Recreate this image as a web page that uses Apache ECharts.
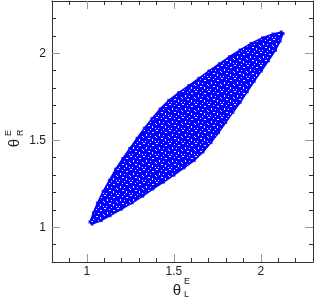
<!DOCTYPE html>
<html><head><meta charset="utf-8">
<script src="https://cdn.jsdelivr.net/npm/echarts@6/dist/echarts.min.js"></script>
<style>html,body{margin:0;padding:0;background:#fff}#c{width:314px;height:300px}</style>
</head><body><div id="c"></div>
<script>
// Outline of the scattered point cloud.
// Upper-left edge (bottom-left tip -> top-right tip)
var upperX = [1.018,1.038,1.061,1.094,1.130,1.166,1.206,1.247,1.289,1.331,1.375,1.421,1.471,1.528,1.586,1.644,1.702,1.761,1.820,1.881,1.944,2.011,2.070,2.118];
var upperY = [1.030,1.083,1.139,1.206,1.270,1.334,1.394,1.453,1.511,1.569,1.625,1.679,1.729,1.773,1.814,1.856,1.898,1.939,1.980,2.019,2.056,2.089,2.110,2.122];
// Lower-right edge (top-right tip -> bottom-left tip)
var lowerX = [2.128,2.111,2.084,2.044,2.003,1.962,1.922,1.882,1.840,1.798,1.757,1.714,1.668,1.617,1.559,1.501,1.441,1.381,1.322,1.261,1.198,1.134,1.083,1.030];
var lowerY = [2.113,2.069,2.016,1.956,1.898,1.838,1.778,1.718,1.660,1.602,1.543,1.486,1.432,1.383,1.341,1.299,1.259,1.220,1.178,1.140,1.103,1.066,1.038,1.018];
var majorTicks = [1, 1.5, 2];
var minorTicks = [0.9,1.1,1.2,1.3,1.4,1.6,1.7,1.8,1.9,2.1,2.2];
var axisMin = 0.8, axisMax = 2.3;

var boundary = [];
upperX.forEach(function(x,i){ boundary.push([x, upperY[i]]); });
lowerX.forEach(function(x,i){ boundary.push([x, lowerY[i]]); });

// speckled blue texture mimicking the dense dots with small white gaps (style only)
var tile = document.createElement('canvas');
tile.width = 13; tile.height = 13;
var tc = tile.getContext('2d');
tc.fillStyle = '#0000ff'; tc.fillRect(0,0,13,13);
tc.fillStyle = 'rgba(255,255,255,0.9)';
[[0,0],[1,0],[5,1],[9,2],[10,2],[3,4],[3,5],[7,5],[12,6],[0,7],[5,8],[6,8],[9,9],[9,10],[2,11],[12,11],[7,12]].forEach(function(p){ tc.fillRect(p[0],p[1],1,1); });

var chart = echarts.init(document.getElementById('c'), null, {renderer:'canvas'});
var lineCol = '#333';
function mkAxis(pos, ticks, len, col, showLine, showLabel) {
  return {
    type:'value', position:pos, min:axisMin, max:axisMax,
    axisLine:{show:showLine, onZero:false, lineStyle:{color:lineCol, width:1}},
    axisTick:{show:true, inside:true, length:len, customValues:ticks, lineStyle:{color:col, width:1}},
    axisLabel:{show:showLabel, customValues:majorTicks, color:'#222', fontSize:12, fontFamily:'Liberation Sans, Arial, sans-serif',
      margin: pos==='bottom'?4:6, formatter:function(v){return String(v);}},
    splitLine:{show:false}
  };
}
var option = {
  animation:false,
  grid:{left:52, top:1, width:261, height:261, containLabel:false},
  xAxis:[
    mkAxis('bottom', majorTicks, 8, '#999', true, true),
    mkAxis('bottom', minorTicks, 4, '#333', false, false),
    mkAxis('top', majorTicks, 8, '#999', true, false),
    mkAxis('top', minorTicks, 4, '#333', false, false)
  ],
  yAxis:[
    mkAxis('left', majorTicks, 8, '#999', true, true),
    mkAxis('left', minorTicks, 4, '#333', false, false),
    mkAxis('right', majorTicks, 8, '#999', true, false),
    mkAxis('right', minorTicks, 4, '#333', false, false)
  ],
  series:[{
    type:'custom',
    xAxisIndex:0, yAxisIndex:0,
    data:[[0]],
    renderItem:function(params, api){
      var pts = boundary.map(function(p){ return api.coord(p); });
      return {type:'polygon', shape:{points:pts}, style:{fill:{image:tile, repeat:'repeat'}, stroke:'#0000ff', lineWidth:1.5}};
    }
  },{
    type:'scatter', xAxisIndex:0, yAxisIndex:0,
    data:boundary, symbol:'rect', symbolSize:3, itemStyle:{color:'#0000ff'}
  }],
  graphic:[
    {type:'group', x:0, y:0, children:[
      {type:'text', x:177, y:291, style:{text:'θ', font:'15px Liberation Sans, Arial', fill:'#222', align:'center', verticalAlign:'middle'}},
      {type:'text', x:184, y:282, style:{text:'E', font:'9px Liberation Sans, Arial', fill:'#222', align:'left', verticalAlign:'middle'}},
      {type:'text', x:184, y:295, style:{text:'L', font:'9px Liberation Sans, Arial', fill:'#222', align:'left', verticalAlign:'middle'}}
    ]},
    {type:'group', x:15, y:143, rotation:Math.PI/2, children:[
      {type:'text', x:0, y:0, style:{text:'θ', font:'15px Liberation Sans, Arial', fill:'#222', align:'center', verticalAlign:'middle'}},
      {type:'text', x:7, y:-6, style:{text:'E', font:'9px Liberation Sans, Arial', fill:'#222', align:'left', verticalAlign:'middle'}},
      {type:'text', x:7, y:6, style:{text:'R', font:'9px Liberation Sans, Arial', fill:'#222', align:'left', verticalAlign:'middle'}}
    ]}
  ]
};
chart.setOption(option);
</script></body></html>
